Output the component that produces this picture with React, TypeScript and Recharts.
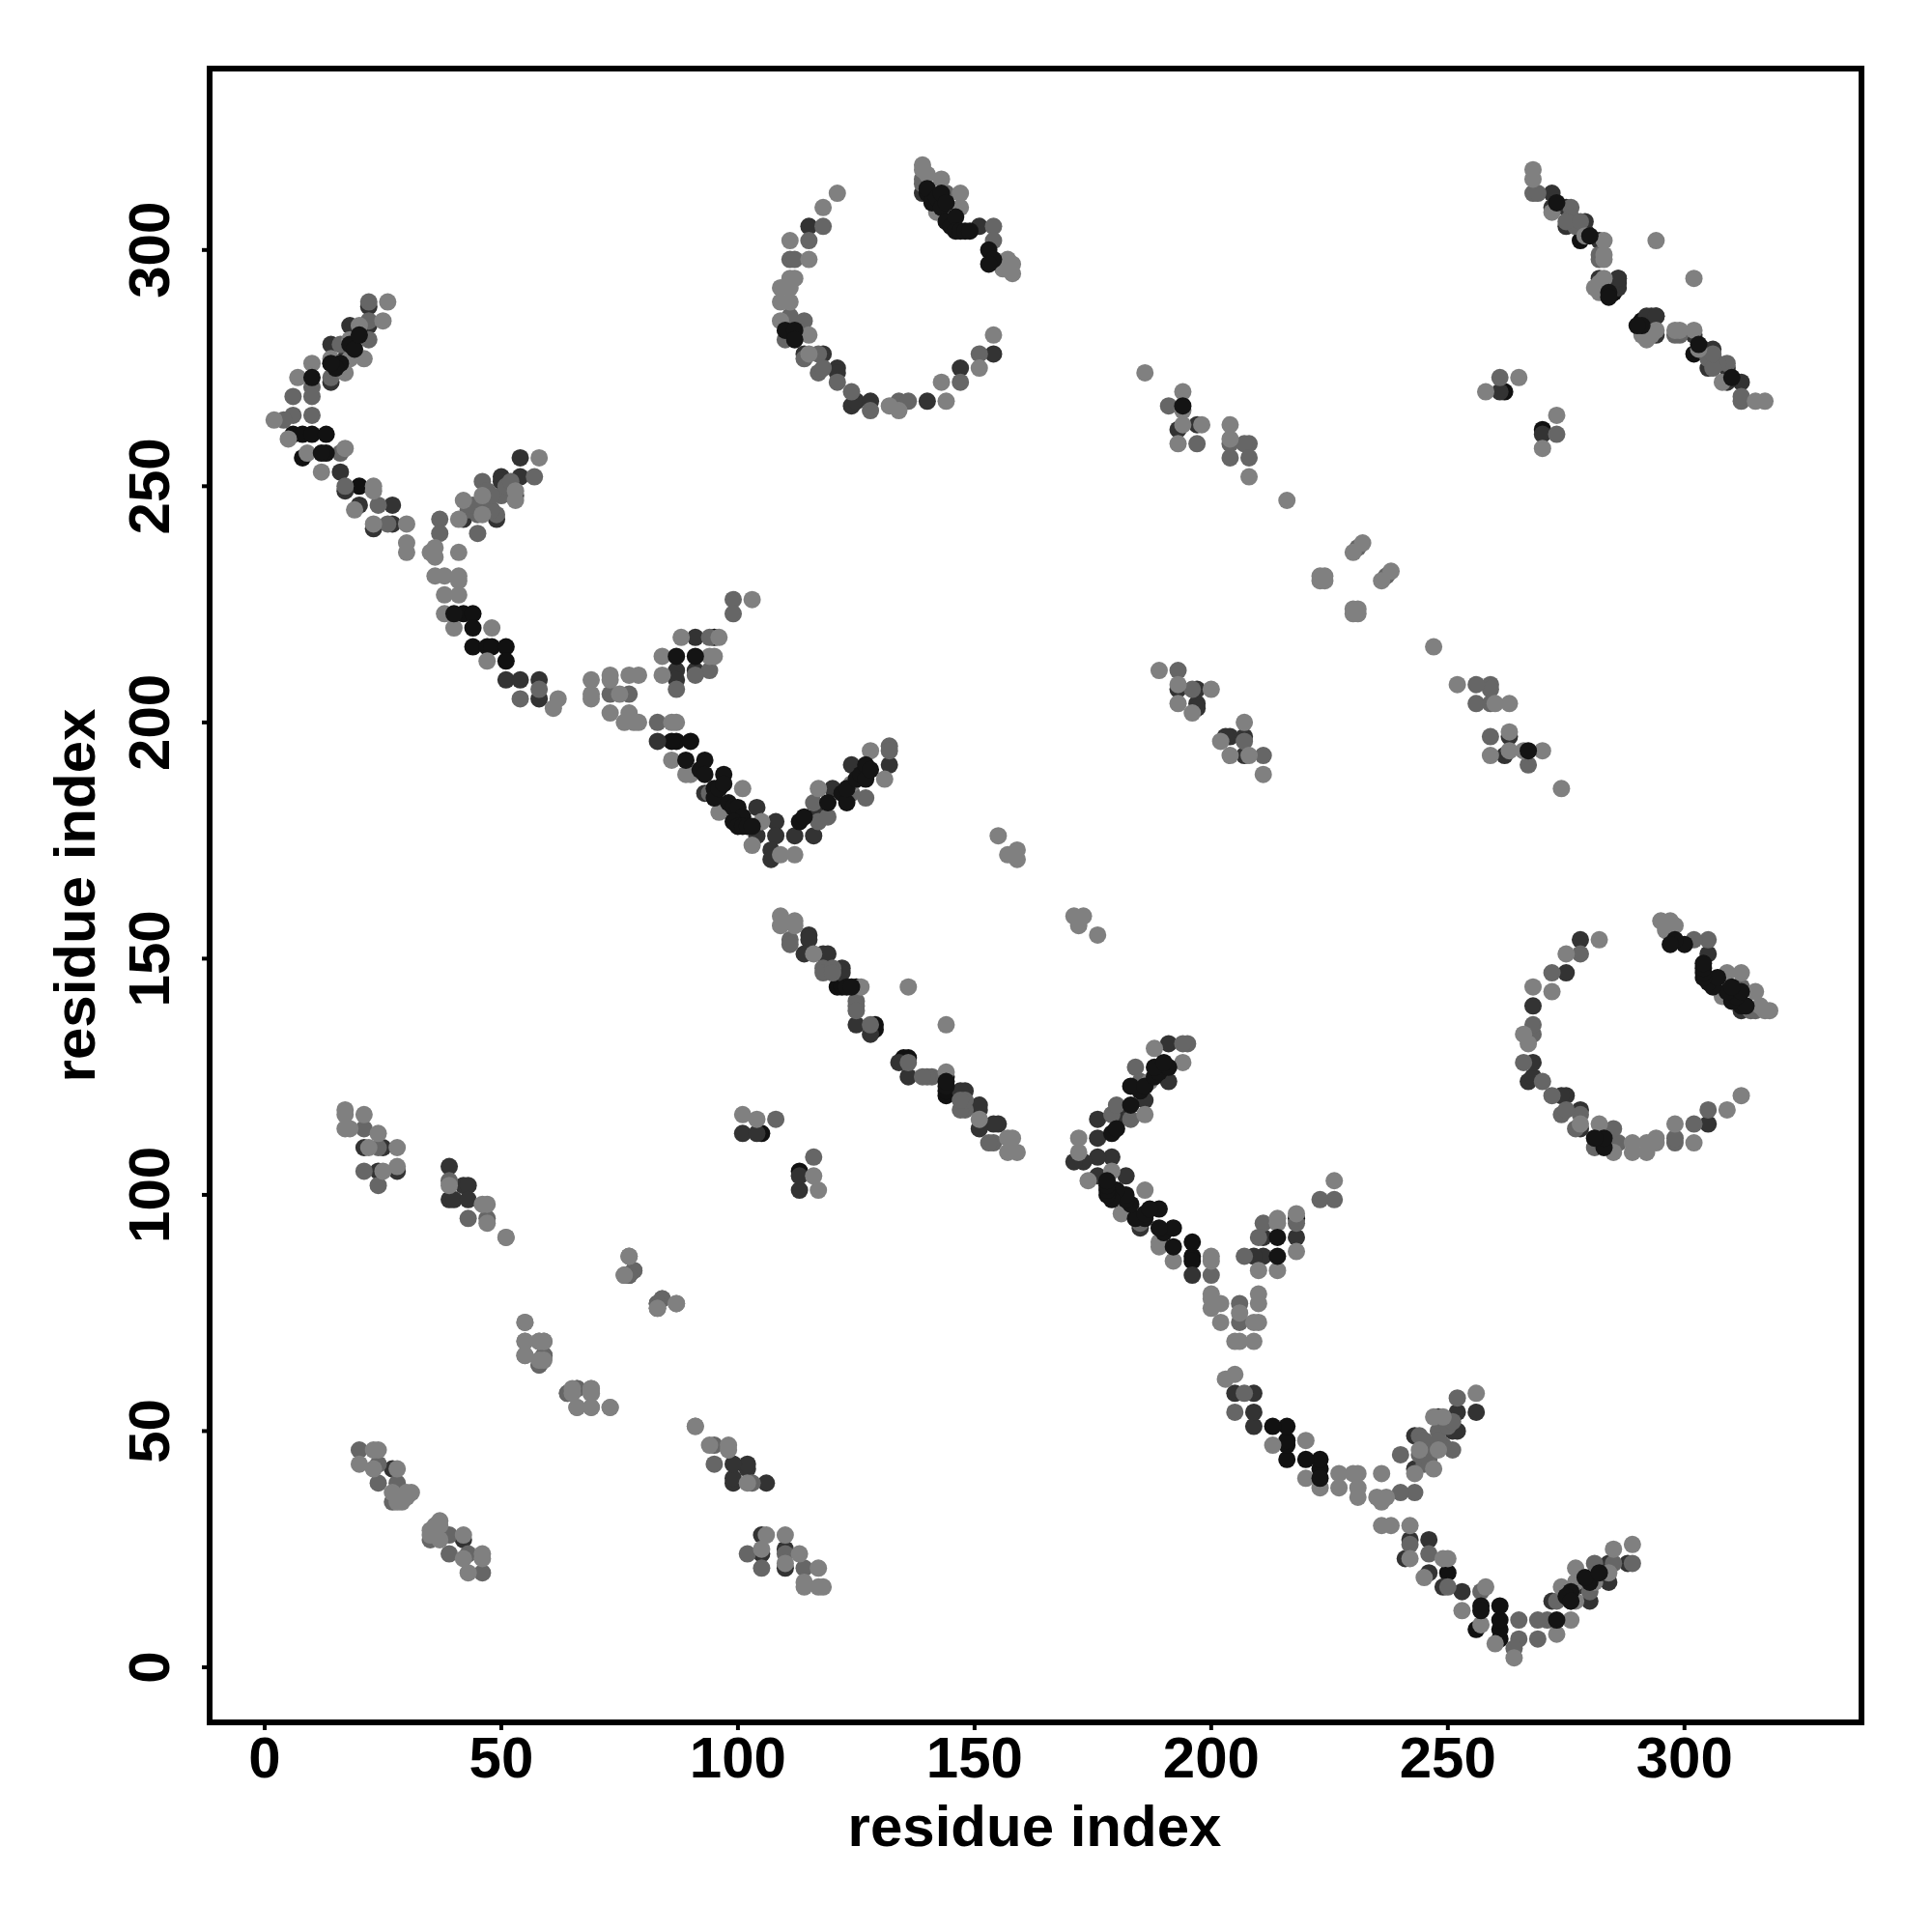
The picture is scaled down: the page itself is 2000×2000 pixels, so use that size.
import { ScatterChart, Scatter, XAxis, YAxis, ReferenceArea } from 'recharts';

// contacts are residue pairs [i, j], the map is symmetric so each pair is drawn both ways
const lightContacts = [
  [26,289],[25,285],[20,284],[18,281],[21,277],[18,277],[14,277],[10,276],[17,274],[7,273],[2,264],[5,260],[17,258],[9,257],[12,253],[23,250],[23,249],[19,245],[23,242],[30,242],[30,238],[30,236],
  [58,256],[53,249],[53,247],[46,248],[42,247],[46,244],[41,243],[36,237],[35,236],[41,236],[36,235],[36,231],[38,231],[41,231],[41,230],[38,227],[41,227],[38,223],[40,220],[48,220],[47,213],
  [62,205],[61,203],[69,209],[73,210],[73,209],[77,210],[79,210],[69,206],[69,205],[75,206],[73,202],[77,202],[76,200],[79,200],[78,200],[87,200],[86,200],
  [103,226],[88,218],[96,218],[84,214],[94,214],[95,214],[84,210],
  [86,192],[89,189],[90,189],[101,186],[96,181],[105,179],[103,174],[109,172],[112,172],[117,186],[124,187],[131,188],[128,194],
  [109,159],[109,157],[112,158],[112,157],[116,151],[126,144],[136,144],
  [121,312],[118,309],[111,302],[115,298],[112,294],[109,292],[109,289],[111,289],[109,285],[115,282],[115,278],[132,267],[134,266],[144,268],[143,272],[151,275],[154,282],[139,318],[139,317],[140,316],[143,315],[147,312],[147,309],[142,308],[157,298],[158,297],[156,296],[158,295],[111,294],[111,292],
  [268,317],[268,315],[272,308],[283,302],[283,299],[283,298],[282,293],[281,292],[279,303],[291,282],[294,283],[294,302],[265,273],[258,270],
  [186,274],[194,270],[194,266],[194,263],[198,263],[193,259],[204,263],[204,260],[208,252],[216,247],[232,238],[230,236],[223,230],[224,231],[223,231],[224,230],
  [189,211],[193,208],[200,207],[193,204],[196,202],
  [17,118],[17,117],[21,117],[17,114],[18,114],[24,113],[22,110],[28,110],[25,105],[28,106],[39,102],[46,98],[47,98],[47,94],[51,91],[77,87],[76,83],[87,77],[91,51],
  [55,73],[55,69],[55,66],[58,69],[59,69],[58,65],[65,59],[69,59],[69,58],[66,55],[69,55],[73,55],[101,117],[104,116],
  [23,46],[24,46],[20,43],[23,42],[28,42],[30,37],[31,37],[27,37],[28,35],[29,35],[30,36],[28,36],
  [159,171],[159,173],[157,172],[155,176],
];

const midContacts = [
  [22,289],[22,285],[22,281],[16,280],[14,273],[10,271],[6,269],[10,269],[10,265],[6,265],[4,264],[16,257],[17,250],[24,246],[26,242],
  [57,252],[46,251],[50,248],[49,244],[45,244],[45,240],[37,243],[37,240],
  [47,246],[48,245],[43,245],[44,246],[47,249],[48,248],[51,250],[52,251],
  [54,205],[58,207],[73,206],[77,206],[83,200],
  [99,226],[99,223],[94,218],[87,207],[94,211],[91,210],
  [97,182],[117,179],[119,180],[127,184],[132,195],[132,194],[116,183],[124,185],[94,185],
  [111,154],[111,153],[118,148],[118,147],[120,148],[120,147],[125,141],[125,140],[128,136],[125,139],
  [115,302],[118,305],[111,298],[112,298],[111,286],[114,285],[110,281],[117,278],[114,277],[117,274],[118,275],[121,272],[124,270],[128,266],[134,268],[136,268],[147,272],[151,278],[154,305],[154,302],[139,314],[144,312],[139,315],
  [268,312],[269,312],[276,309],[276,307],[277,305],[275,306],[278,306],[282,299],[282,298],[261,273],
  [191,267],[197,259],[208,259],[207,259],[204,256],[204,259],[208,256],[193,211],[231,237],[196,207],
  [21,114],[21,105],[24,102],[24,110],[39,103],[47,95],[43,95],[78,84],[84,78],[83,77],[83,76],[59,66],[58,64],[64,58],[66,59],[108,116],
  [20,46],[24,43],[24,39],[28,39],[27,35],
];

const darkContacts = [
  [22,288],[22,284],[18,284],[14,280],[17,277],[14,276],[14,272],[27,246],[27,242],[23,241],[16,253],[20,246],[17,249],
  [54,256],[54,252],[50,252],[50,251],[53,248],[46,246],[42,243],[49,243],
  [51,209],[54,209],[58,209],[58,205],[83,196],
  [91,218],[87,211],[87,209],[91,211],
  [93,185],[104,182],[108,179],[104,176],[108,176],[107,173],[107,171],[112,176],[116,176],[117,181],[120,186],[124,191],[132,191],
  [115,155],[115,154],[114,151],[118,151],[119,151],[122,148],[122,147],[125,136],[128,134],
  [115,305],[110,285],[111,282],[114,278],[118,278],[121,275],[121,274],[124,267],[125,268],[128,268],[140,268],[154,278],[147,275],[139,312],[142,309],[151,305],
  [272,312],[272,309],[275,309],[275,305],[279,306],[279,304],[282,302],[282,294],[286,294],[286,293],[292,286],[294,286],[261,270],
  [193,262],[197,263],[193,207],[197,207],[197,204],[197,203],
  [21,110],[25,110],[24,105],[28,105],[39,106],[39,99],[40,99],[42,102],[43,102],[43,99],[77,83],[101,113],[104,113],[27,42],
];

const blackContacts = [
  [6,261],[8,261],[10,261],[13,261],[8,256],[20,250],
  [42,223],[44,223],[44,220],[44,216],[47,216],[48,216],[51,216],[51,213],
  [87,196],[90,196],[86,196],
  [95,218],
  [121,144],[122,144],[125,144],[129,136],[129,135],
  [278,302],[285,291],[291,285],[262,270],
  [105,113],
];

// dark marks that sit above the lighter ones where they overlap
const topContacts = [
  [18,280],[19,279],[20,282],[16,276],[15,275],[14,276],[10,273],[13,257],[12,257],[40,223],
  [87,214],[91,214],[194,267],
  [89,192],[92,190],[93,192],[93,189],[95,186],[95,184],[97,189],[96,186],[97,187],[98,183],[99,182],[100,182],[101,180],[99,179],[100,178],[101,178],[102,178],[103,178],
  [113,179],[114,180],[119,183],[122,185],[123,183],[123,186],[125,188],[126,189],[127,191],[127,188],[128,190],
  [123,144],[124,144],
  [140,312],[140,313],[141,310],[142,311],[143,309],[143,312],[144,310],[144,306],[145,305],[146,307],[146,304],[147,304],[148,304],[149,304],[153,300],[154,298],[153,297],
  [110,283],[112,283],[112,281],
  [273,310],[280,303],[284,291],[290,284],
];

const tickValues = [0, 50, 100, 150, 200, 250, 300];
const axisFont = '"Liberation Sans", Arial, sans-serif';

const both = (pairs: number[][]) =>
  pairs.flatMap(([i, j]) => [{ x: i, y: j }, { x: j, y: i }]);

const Dot = ({ cx, cy, fill }: any) => <circle cx={cx} cy={cy} r={9} fill={fill} />;

function XTick({ x, y, payload }: any) {
  return (
    <text x={x} y={y + 47} textAnchor="middle" fontFamily={axisFont} fontWeight="bold" fontSize={60} fill="#000">
      {payload.value}
    </text>
  );
}

function YTick({ x, y, payload }: any) {
  return (
    <text
      transform={`translate(${x - 32} ${y}) rotate(-90)`}
      textAnchor="middle"
      fontFamily={axisFont}
      fontWeight="bold"
      fontSize={60}
      fill="#000"
    >
      {payload.value}
    </text>
  );
}

export default function App() {
  return (
    <div style={{ position: 'absolute', left: 0, top: 0 }}>
      <ScatterChart width={2000} height={2000} margin={{ top: 71, right: 73, bottom: 0, left: 0 }}>
        <XAxis
          type="number"
          dataKey="x"
          domain={[-11.63, 337.4]}
          ticks={tickValues}
          interval={0}
          height={217}
          tick={<XTick />}
          tickSize={8}
          tickLine={{ stroke: '#000', strokeWidth: 4 }}
          axisLine={false}
          allowDataOverflow
        />
        <YAxis
          type="number"
          dataKey="y"
          domain={[-11.66, 338.4]}
          ticks={tickValues}
          interval={0}
          width={217}
          tick={<YTick />}
          tickSize={8}
          tickLine={{ stroke: '#000', strokeWidth: 4 }}
          axisLine={false}
          allowDataOverflow
        />
        <Scatter data={both(blackContacts)} fill="#111111" shape={Dot} isAnimationActive={false} />
        <Scatter data={both(darkContacts)} fill="#333333" shape={Dot} isAnimationActive={false} />
        <Scatter data={both(midContacts)} fill="#666666" shape={Dot} isAnimationActive={false} />
        <Scatter data={both(lightContacts)} fill="#808080" shape={Dot} isAnimationActive={false} />
        <Scatter data={both(topContacts)} fill="#141414" shape={Dot} isAnimationActive={false} />
        <ReferenceArea
          x1={-11.63}
          x2={337.4}
          y1={-11.66}
          y2={338.4}
          fill="none"
          stroke="#000"
          strokeWidth={6}
          ifOverflow="visible"
        />
        <text x={1071} y={1911} textAnchor="middle" fontFamily={axisFont} fontWeight="bold" fontSize={60} fill="#000">
          residue index
        </text>
        <text
          transform="translate(98 927) rotate(-90)"
          textAnchor="middle"
          fontFamily={axisFont}
          fontWeight="bold"
          fontSize={60}
          fill="#000"
        >
          residue index
        </text>
      </ScatterChart>
    </div>
  );
}
